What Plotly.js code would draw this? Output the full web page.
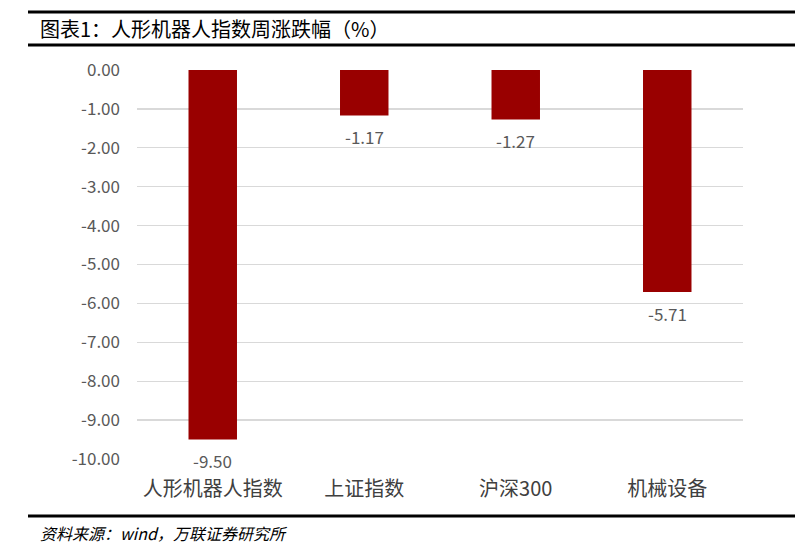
<!DOCTYPE html>
<html>
<head>
<meta charset="utf-8">
<script src="https://cdn.plot.ly/plotly-3.0.1.min.js"></script>
<style>html,body{margin:0;padding:0;background:#fff;}#chart{width:795px;height:550px;}</style>
</head>
<body>
<div id="chart"></div>
<script>
const categories = ["人形机器人指数", "上证指数", "沪深300", "机械设备"];
const values = [-9.50, -1.17, -1.27, -5.71];
const tickVals = [0, -1, -2, -3, -4, -5, -6, -7, -8, -9, -10];
const tickText = ["0.00", "-1.00", "-2.00", "-3.00", "-4.00", "-5.00", "-6.00", "-7.00", "-8.00", "-9.00", "-10.00"];
const titleText = "图表1：人形机器人指数周涨跌幅（%）";
const sourceText = "资料来源：wind，万联证券研究所";

const W = 795, H = 550;
const L = 137, R = 743, T = 70, B = 459;
const px = x => (x - L) / (R - L);
const py = y => (B - y) / (B - T);
const font = "'Noto Sans CJK SC', 'Noto Sans', sans-serif";

const trace = {
  type: 'bar',
  x: categories,
  y: values,
  marker: {color: '#990000'},
  hoverinfo: 'none'
};

const labelAnn = categories.map((c, i) => ({
  x: c, y: values[i], xref: 'x', yref: 'y',
  text: values[i].toFixed(2), showarrow: false,
  yshift: -21, font: {family: font, size: 17, color: '#595959'}
}));

const layout = {
  width: W, height: H,
  margin: {l: L, r: W - R, t: T, b: H - B, pad: 0},
  paper_bgcolor: '#ffffff', plot_bgcolor: '#ffffff',
  showlegend: false,
  bargap: 0.68,
  xaxis: {
    type: 'category', showgrid: false, zeroline: false, showline: false,
    ticks: '', ticklabelstandoff: 16,
    tickfont: {family: font, size: 20, color: '#404040'}
  },
  yaxis: {
    range: [-10, 0], tickvals: tickVals, ticktext: tickText,
    showgrid: true, gridcolor: '#d9d9d9', gridwidth: 1.3,
    zeroline: false, showline: false, ticks: '',
    ticklabelstandoff: 16,
    tickfont: {family: font, size: 17, color: '#595959'}
  },
  shapes: [
    {type: 'line', xref: 'paper', yref: 'paper', x0: px(28), x1: px(795), y0: py(12), y1: py(12), line: {color: '#000', width: 3}},
    {type: 'line', xref: 'paper', yref: 'paper', x0: px(28), x1: px(795), y0: py(45), y1: py(45), line: {color: '#000', width: 3}},
    {type: 'line', xref: 'paper', yref: 'paper', x0: px(28), x1: px(795), y0: py(516), y1: py(516), line: {color: '#000', width: 3}}
  ],
  annotations: labelAnn.concat([
    {xref: 'paper', yref: 'paper', x: px(38), y: py(28), xanchor: 'left', yanchor: 'middle',
     text: titleText, showarrow: false, font: {family: font, size: 20, color: '#000'}},
    {xref: 'paper', yref: 'paper', x: px(38), y: py(533), xanchor: 'left', yanchor: 'middle',
     text: '<i>' + sourceText + '</i>', showarrow: false, font: {family: font, size: 16, color: '#000'}}
  ])
};

Plotly.newPlot('chart', [trace], layout, {displayModeBar: false, staticPlot: true});
</script>
</body>
</html>
